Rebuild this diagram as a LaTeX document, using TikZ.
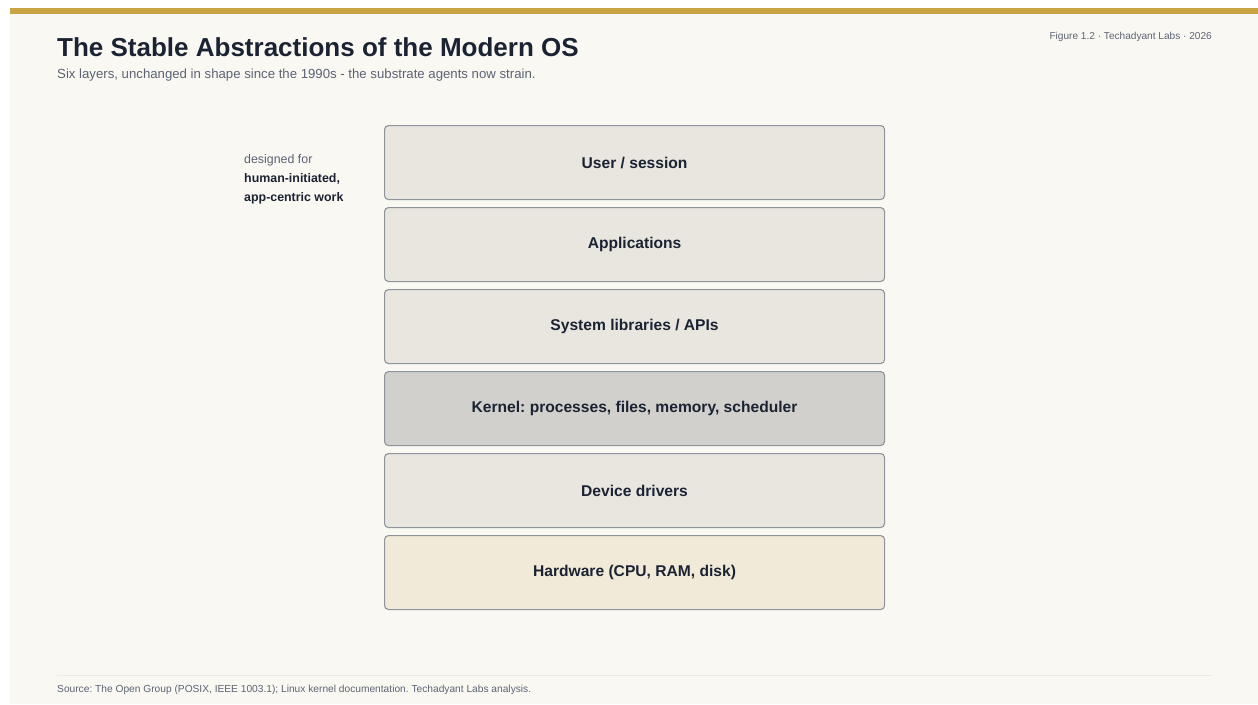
\documentclass[tikz,border=0pt]{standalone}
\usepackage{fontspec}
\setmainfont{Liberation Sans}
\frenchspacing
\definecolor{bgc}{HTML}{F9F8F3}
\definecolor{gold}{HTML}{C8A445}
\definecolor{ink}{HTML}{1B2333}
\definecolor{muted}{HTML}{5C6373}
\definecolor{edge}{HTML}{8F949C}
\definecolor{layer}{HTML}{E8E6DF}
\definecolor{kern}{HTML}{D1D0CC}
\definecolor{hw}{HTML}{F2EAD8}
\definecolor{rule}{HTML}{ECEAE4}
\begin{document}
\begin{tikzpicture}[x=1pt,y=-1pt,
  layerbox/.style={draw=edge, line width=1.1pt, rounded corners=4pt, fill=layer,
    minimum width=500pt, minimum height=74pt, inner sep=0pt, anchor=north west,
    text=ink, font=\fontsize{15.6}{18}\selectfont\bfseries},
  txt/.style={inner sep=0pt, anchor=base west}]
\useasboundingbox (0,0) rectangle (1258,704);
\fill[white] (0,0) rectangle (1258,704);
\fill[bgc] (10,8) rectangle (1258,704);
\fill[gold] (10,8) rectangle (1258,14);
\node[txt, text=ink, font=\fontsize{26}{30}\selectfont\bfseries] (title) at (57,56) {The Stable Abstractions of the Modern OS};
\node[txt, text=muted, font=\fontsize{13.2}{15}\selectfont] (sub) at (57,78) {Six layers, unchanged in shape since the 1990s - the substrate agents now strain.};
\node[inner sep=0pt, anchor=base east, text=muted, font=\fontsize{10.1}{12}\selectfont] (fig) at (1212,39) {Figure 1.2 · Techadyant Labs · 2026};
\node[layerbox] (user) at (384,125) {User / session};
\node[layerbox] (apps) at (384,207) {Applications};
\node[layerbox] (libs) at (384,289) {System libraries / APIs};
\node[layerbox, fill=kern] (kernel) at (384,371) {Kernel: processes, files, memory, scheduler};
\node[layerbox] (drivers) at (384,453) {Device drivers};
\node[layerbox, fill=hw] (hardware) at (384,535) {Hardware (CPU, RAM, disk)};
\node[txt, text=muted, font=\fontsize{12.4}{14}\selectfont] (d1) at (244,163) {designed for};
\node[txt, text=ink, font=\fontsize{12.4}{14}\selectfont\bfseries] (d2) at (244,182) {human-initiated,};
\node[txt, text=ink, font=\fontsize{12.4}{14}\selectfont\bfseries] (d3) at (244,201) {app-centric work};
\draw[rule, line width=1pt] (57,675) -- (1212,675);
\node[txt, text=muted, font=\fontsize{10.2}{12}\selectfont] (src) at (57,692) {Source: The Open Group (POSIX, IEEE 1003.1); Linux kernel documentation. Techadyant Labs analysis.};
\end{tikzpicture}
\end{document}
